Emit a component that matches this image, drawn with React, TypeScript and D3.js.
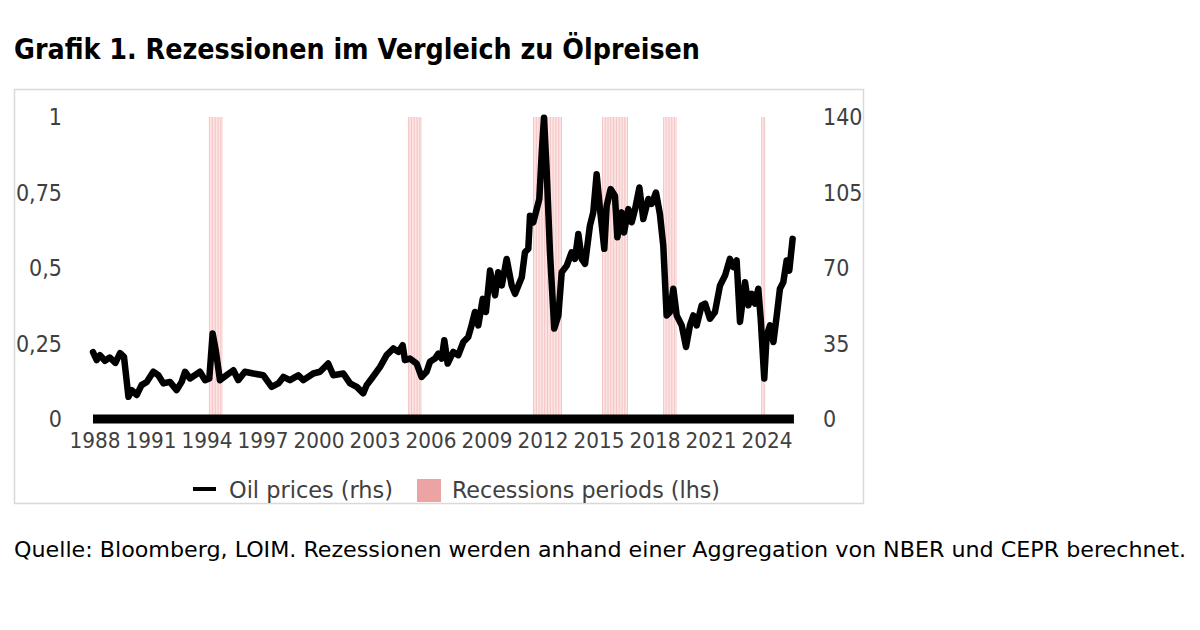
import * as d3 from 'd3';

// oil price, monthly-ish readings (decimal year, USD)
const oilDates = [
    1988.0, 1988.2, 1988.37, 1988.64, 1988.9, 1989.2, 1989.45, 1989.66, 1989.9, 1990.07, 1990.34, 1990.6, 1990.88,
    1991.23, 1991.5, 1991.77, 1992.12, 1992.48, 1992.75, 1992.93, 1993.2, 1993.73, 1994.0, 1994.23, 1994.41, 1994.59,
    1994.8, 1995.16, 1995.52, 1995.78, 1996.14, 1996.59, 1997.12, 1997.57, 1997.93, 1998.2, 1998.55, 1999.0, 1999.27,
    1999.8, 2000.16, 2000.6, 2000.87, 2001.41, 2001.77, 2002.13, 2002.48, 2002.66, 2002.93, 2003.38, 2003.73, 2004.09,
    2004.36, 2004.59, 2004.71, 2004.98, 2005.34, 2005.6, 2005.87, 2006.05, 2006.32, 2006.5, 2006.68, 2006.82, 2007.0,
    2007.3, 2007.57, 2007.84, 2008.1, 2008.28, 2008.46, 2008.64, 2008.88, 2009.05, 2009.27, 2009.54, 2009.71, 2009.9,
    2010.16, 2010.43, 2010.61, 2010.79, 2010.97, 2011.14, 2011.32, 2011.41, 2011.59, 2011.77, 2011.91, 2012.04, 2012.16,
    2012.3, 2012.48, 2012.71, 2012.93, 2013.11, 2013.38, 2013.64, 2013.82, 2014.0, 2014.18, 2014.36, 2014.62, 2014.8,
    2014.98, 2015.16, 2015.39, 2015.52, 2015.73, 2015.96, 2016.09, 2016.32, 2016.45, 2016.68, 2016.86, 2017.04, 2017.27,
    2017.48, 2017.75, 2017.93, 2018.16, 2018.37, 2018.55, 2018.73, 2018.91, 2019.09, 2019.27, 2019.54, 2019.77, 2019.98,
    2020.16, 2020.34, 2020.61, 2020.79, 2021.05, 2021.32, 2021.59, 2021.86, 2022.12, 2022.3, 2022.48, 2022.66, 2022.93,
    2023.11, 2023.29, 2023.46, 2023.64, 2023.77, 2023.96, 2024.09, 2024.27, 2024.45, 2024.63, 2024.8, 2024.98, 2025.16,
    2025.3, 2025.48,
];
const oilPrices = [
    31, 27.3, 29.6, 27, 28.5, 26, 30.5, 28.8, 10.3, 13.4, 11.1, 15.7, 17.2,
    21.9, 20.3, 16.5, 17.2, 13.4, 17.2, 21.9, 18.8, 21.9, 18, 18.8, 39.6, 31.1,
    18, 20.3, 22.6, 18, 21.9, 21.1, 20.3, 14.9, 16.5, 19.5, 18, 20.3, 18,
    21.1, 21.9, 25.7, 20.3, 21.1, 16.5, 14.9, 11.9, 15.7, 18.8, 24.2, 29.6, 32.7,
    31.1, 34.2, 27.3, 28, 25.7, 19.5, 21.9, 26.5, 28, 30.3, 28, 36.5, 25.7,
    31.1, 29.6, 35.7, 38, 43.4, 49.6, 43.4, 55.7, 49.6, 68.8, 57.3, 68, 61.9,
    74.2, 61.9, 58, 61.9, 65.7, 77.3, 78.9, 94.2, 91.2, 97.3, 102, 123.5, 139.7,
    115.8, 77.3, 41.9, 48, 68, 71.1, 77.3, 74.2, 85.8, 74.2, 71.9, 89.6, 95.8,
    113.5, 97.3, 78.9, 98.9, 106.6, 103.5, 84.2, 95.8, 86.5, 97.3, 91.2, 97.3, 107.3,
    92.7, 102, 99.7, 105, 95, 80.4, 48, 49.6, 60.4, 48, 43.4, 33.4, 43.4,
    48, 43.4, 52.7, 53.5, 46.5, 49.6, 61.9, 66.5, 74.2, 70.4, 73.5, 45, 63.4,
    52.7, 58, 53.5, 60.4, 46.5, 18.8, 38.8, 43.4, 35.7, 48, 60.4, 63.4, 73.5,
    68.8, 83.5,
];

// recession periods (value 1 on lhs), start / end as decimal years
const recessionStart = [1994.21, 2004.87, 2011.57, 2015.27, 2018.54, 2023.79];
const recessionEnd = [1994.91, 2005.57, 2013.12, 2016.61, 2019.23, 2024.02];

const xLabels = ['1988', '1991', '1994', '1997', '2000', '2003', '2006', '2009', '2012', '2015', '2018', '2021', '2024'];
const leftTicks = [0, 0.25, 0.5, 0.75, 1];
const leftTickLabels = ['0', '0,25', '0,5', '0,75', '1'];
const rightTicks = [0, 35, 70, 105, 140];

const W = 1200;
const H = 630;
const font = '"DejaVu Sans Condensed", "DejaVu Sans", sans-serif';

export default function App() {
    const x = d3.scaleLinear().domain([1988, 2025.5]).range([93, 793]);
    const yL = d3.scaleLinear().domain([0, 1]).range([419, 117]);
    const yR = d3.scaleLinear().domain([0, 140]).range([419, 117]);

    const oil = oilDates.map((d, i) => [d, oilPrices[i]] as [number, number]);
    const line = d3
        .line<[number, number]>()
        .x((d) => x(d[0]))
        .y((d) => yR(d[1]));

    const monthW = x(1988 + 1 / 12) - x(1988);
    const recMonths = recessionStart.flatMap((s, i) => d3.range(s, recessionEnd[i], 1 / 12));

    return (
        <svg width={W} height={H} style={{ position: 'absolute', left: 0, top: 0, background: '#fff' }}>
            <rect width={W} height={H} fill='#fff' />
            <text x={14} y={59} fontFamily={font} fontWeight='bold' fontSize={29} fill='#000' textLength={686} lengthAdjust='spacingAndGlyphs'>
                Grafik 1. Rezessionen im Vergleich zu Ölpreisen
            </text>

            {/* chart frame */}
            <rect x={14.5} y={89.5} width={849} height={414} fill='none' stroke='#d9d9d9' strokeWidth={1.5} />

            {/* recession columns */}
            {recMonths.map((m, i) => (
                <rect key={i} x={x(m)} y={yL(1)} width={monthW * 0.65} height={yL(0) - yL(1)} fill='#f09c9c' opacity={0.6} />
            ))}

            {/* zero bar */}
            <line x1={x(1988)} x2={x(2025.55)} y1={yL(0)} y2={yL(0)} stroke='#000' strokeWidth={9} />

            <path d={line(oil) ?? ''} fill='none' stroke='#000' strokeWidth={6.5} strokeLinejoin='round' strokeLinecap='round' />

            {/* left axis */}
            {leftTicks.map((t, i) => (
                <text key={t} x={62} y={yL(t)} dy='0.36em' textAnchor='end' fontFamily={font} fontSize={23} fill='#404040'>
                    {leftTickLabels[i]}
                </text>
            ))}
            {/* right axis */}
            {rightTicks.map((t) => (
                <text key={t} x={823} y={yR(t)} dy='0.36em' textAnchor='start' fontFamily={font} fontSize={23} fill='#404040'>
                    {t}
                </text>
            ))}
            {/* x axis */}
            {xLabels.map((l) => (
                <text key={l} x={x(+l) + 2} y={448} textAnchor='middle' fontFamily={font} fontSize={22} fill='#404040' textLength={51} lengthAdjust='spacingAndGlyphs'>
                    {l}
                </text>
            ))}

            {/* legend */}
            <line x1={193} x2={216} y1={489} y2={489} stroke='#000' strokeWidth={4} />
            <text x={229} y={498} fontFamily={font} fontSize={23} fill='#404040' textLength={164} lengthAdjust='spacingAndGlyphs'>
                Oil prices (rhs)
            </text>
            <rect x={417} y={479} width={24} height={23} fill='#eba3a3' />
            <text x={452} y={498} fontFamily={font} fontSize={23} fill='#404040' textLength={268} lengthAdjust='spacingAndGlyphs'>
                Recessions periods (lhs)
            </text>

            <text x={14} y={557} fontFamily={font} fontSize={22} fill='#000' textLength={1172} lengthAdjust='spacingAndGlyphs'>
                Quelle: Bloomberg, LOIM. Rezessionen werden anhand einer Aggregation von NBER und CEPR berechnet.
            </text>
        </svg>
    );
}
